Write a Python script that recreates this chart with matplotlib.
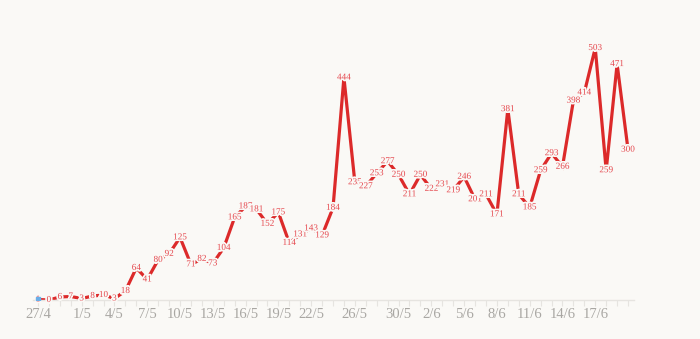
import matplotlib
matplotlib.use("Agg")
import matplotlib.pyplot as plt
import matplotlib.patheffects as pe
import datetime as dt

start_date = dt.date(2020, 4, 27)
values = [1, 0, 6, 7, 3, 8, 10, 3, 18, 64, 41, 80, 92, 125, 71, 82, 73, 104,
          165, 187, 181, 152, 175, 114, 131, 143, 129, 184, 444, 235, 227, 253,
          277, 250, 211, 250, 222, 231, 219, 246, 201, 211, 171, 381, 211, 185,
          259, 293, 266, 398, 414, 503, 259, 471, 300]
dates = [start_date + dt.timedelta(days=i) for i in range(len(values))]
date_labels = [f"{d.day}/{d.month}" for d in dates]
tick_labels = ["27/4", "1/5", "4/5", "7/5", "10/5", "13/5", "16/5", "19/5", "22/5",
               "26/5", "30/5", "2/6", "5/6", "8/6", "11/6", "14/6", "17/6"]

BG = "#faf9f6"
LINE = "#dc2a2a"
LABEL = "#e5474d"

fig = plt.figure(figsize=(7.0, 3.39), dpi=100, facecolor=BG)
ax = fig.add_axes([32.5 / 700, 39 / 339, (633.5 - 32.5) / 700, 270.5 / 339])
ax.set_facecolor(BG)

x = list(range(len(values)))
ax.plot(x, values, color=LINE, lw=2.3, solid_joinstyle="miter", zorder=2)
ax.plot([x[0]], [values[0]], marker="s", ms=3.5, color="#6aaee8", zorder=4)

for xi, v in zip(x, values):
    ax.text(xi, v, str(v), ha="center", va="center", fontsize=6.6,
            family="Liberation Serif", color=LABEL, zorder=3,
            path_effects=[pe.withStroke(linewidth=2.5, foreground=BG)])

ax.set_xlim(-0.5, len(values) - 0.5)
ax.set_ylim(0, 540)
for s in ["top", "right", "left"]:
    ax.spines[s].set_visible(False)
ax.spines["bottom"].set_color("#e6e4e0")
ax.spines["bottom"].set_linewidth(1.0)
ax.set_yticks([])

ax.set_xticks(x, minor=True)
ax.tick_params(axis="x", which="minor", length=4, width=0.8, color="#e6e4e0")
ax.set_xticks([date_labels.index(t) for t in tick_labels])
ax.set_xticklabels(tick_labels, family="Liberation Serif", fontsize=10.5, color="#a9a7a3")
ax.tick_params(axis="x", which="major", length=4, width=0.8, color="#e6e4e0", pad=2)

fig.savefig("out.png", dpi=100, facecolor=BG)
